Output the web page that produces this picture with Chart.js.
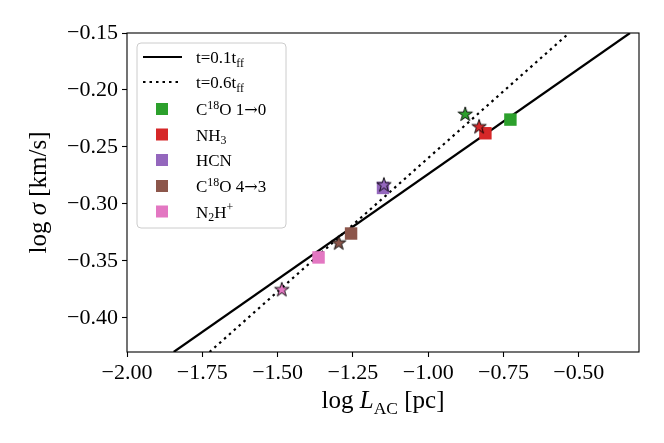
<!DOCTYPE html>
<html lang="en">
<head>
<meta charset="UTF-8">
<title>log sigma vs log L_AC</title>
<script src="https://cdn.jsdelivr.net/npm/chart.js"></script>
<style>
  html, body { margin: 0; padding: 0; background: #fff; }
  #wrap { width: 664px; height: 443px; }
</style>
</head>
<body>
<div id="wrap"><canvas id="chart" width="664" height="443"></canvas></div>
<script>
// model lines: t = 0.1 t_ff (solid) and t = 0.6 t_ff (dotted)
const solidX = [-1.845, -0.330];
const solidY = [-0.43, -0.15];
const dottedX = [-1.726, -0.532];
const dottedY = [-0.43, -0.15];

// tracers (squares = one estimate, stars = the other)
const tracerColors = ['#2ca02c', '#d62728', '#9467bd', '#8c564b', '#e377c2'];
const squareX = [-0.727, -0.810, -1.150, -1.256, -1.364];
const squareY = [-0.226, -0.238, -0.286, -0.326, -0.347];
const starX = [-0.877, -0.831, -1.147, -1.297, -1.486];
const starY = [-0.221, -0.232, -0.283, -0.334, -0.375];

const xTicks = [-2.0, -1.75, -1.5, -1.25, -1.0, -0.75, -0.5];
const yTicks = [-0.40, -0.35, -0.30, -0.25, -0.20, -0.15];

// legend text, split into pieces for sub/superscripts
const lineLabels = [
    [['t=0.1t'], ['ff', 'sub']],
    [['t=0.6t'], ['ff', 'sub']]
];
const tracerLabels = [
    [['C'], ['18', 'sup'], ['O 1'], ['→', 'ar'], ['0']],
    [['NH'], ['3', 'sub']],
    [['HCN']],
    [['C'], ['18', 'sup'], ['O 4'], ['→', 'ar'], ['3']],
    [['N'], ['2', 'sub'], ['H'], ['+', 'sup']]
];
const xTitle = [['log '], ['L', 'it'], ['AC', 'sub'], [' [pc]']];
const yTitle = [['log '], ['σ', 'it'], [' [km/s]']];

const FONT = '"Liberation Serif", serif';

function segFont(s, size) {
    if (s[1] === 'sub' || s[1] === 'sup') return (size * 0.7) + 'px ' + FONT;
    if (s[1] === 'it') return 'italic ' + size + 'px ' + FONT;
    if (s[1] === 'ar') return (size * 0.95) + 'px "DejaVu Serif", serif';
    return size + 'px ' + FONT;
}
function richWidth(ctx, segs, size) {
    let w = 0;
    segs.forEach(s => { ctx.font = segFont(s, size); w += ctx.measureText(s[0]).width; });
    return w;
}
// x = left edge, y = baseline
function drawRich(ctx, segs, x, y, size) {
    ctx.textBaseline = 'alphabetic';
    ctx.textAlign = 'left';
    ctx.fillStyle = '#000';
    segs.forEach(s => {
        ctx.font = segFont(s, size);
        let dy = 0;
        if (s[1] === 'sub') dy = size * 0.22;
        if (s[1] === 'sup') dy = -size * 0.38;
        ctx.fillText(s[0], x, y + dy);
        x += ctx.measureText(s[0]).width;
    });
}

// filled five point star with black edge, used as point image
function makeStar(color) {
    const c = document.createElement('canvas');
    c.width = 18; c.height = 18;
    const g = c.getContext('2d');
    const R = 7.6, r = R * 0.382;
    g.beginPath();
    for (let i = 0; i < 10; i++) {
        const a = -Math.PI / 2 + i * Math.PI / 5;
        const rad = i % 2 ? r : R;
        g.lineTo(9 + rad * Math.cos(a), 9.5 + rad * Math.sin(a));
    }
    g.closePath();
    g.fillStyle = color;
    g.fill();
    g.strokeStyle = '#000';
    g.lineWidth = 0.9;
    g.stroke();
    return c;
}

const fmt = v => v.toFixed(2).replace('-', '\u2212');

const toPts = (xs, ys) => xs.map((x, i) => ({ x: x, y: ys[i] }));

// frame, legend box and axis titles
const decor = {
    id: 'decor',
    afterDatasetsDraw(chart) {
        const ctx = chart.ctx, a = chart.chartArea;
        ctx.save();
        ctx.strokeStyle = '#000';
        ctx.lineWidth = 1.1;
        ctx.strokeRect(a.left, a.top, a.right - a.left, a.bottom - a.top);
        ctx.restore();
    },
    afterDraw(chart) {
        const ctx = chart.ctx, a = chart.chartArea;
        ctx.save();

        // legend
        ctx.beginPath();
        ctx.roundRect(137, 43, 149, 185, 4);
        ctx.fillStyle = 'rgba(255,255,255,0.8)';
        ctx.fill();
        ctx.strokeStyle = '#cccccc';
        ctx.lineWidth = 1;
        ctx.stroke();

        const rows = [57, 82, 109, 134.5, 160, 186, 211.5];
        const textX = 196, fs = 17;
        ctx.strokeStyle = '#000';
        ctx.lineWidth = 2.2;
        ctx.beginPath();
        ctx.moveTo(143, rows[0]); ctx.lineTo(182, rows[0]);
        ctx.stroke();
        ctx.setLineDash([2.5, 4]);
        ctx.beginPath();
        ctx.moveTo(143, rows[1]); ctx.lineTo(182, rows[1]);
        ctx.stroke();
        ctx.setLineDash([]);
        lineLabels.forEach((l, i) => drawRich(ctx, l, textX, rows[i] + 6, fs));
        tracerLabels.forEach((l, i) => {
            const y = rows[i + 2];
            ctx.fillStyle = tracerColors[i];
            ctx.fillRect(156, y - 6, 12, 12);
            drawRich(ctx, l, textX, y + 6, fs);
        });

        // axis titles
        const ts = 25;
        const wx = richWidth(ctx, xTitle, ts);
        drawRich(ctx, xTitle, (a.left + a.right) / 2 - wx / 2, 408, ts);
        const wy = richWidth(ctx, yTitle, ts);
        ctx.translate(46, (a.top + a.bottom) / 2);
        ctx.rotate(-Math.PI / 2);
        drawRich(ctx, yTitle, -wy / 2, 0, ts);
        ctx.restore();
    }
};

const tickFont = { family: FONT, size: 22 };

new Chart(document.getElementById('chart'), {
    type: 'scatter',
    data: {
        datasets: [
            {
                type: 'line',
                data: toPts(solidX, solidY),
                borderColor: '#000',
                borderWidth: 2.2,
                pointRadius: 0,
                order: 3
            },
            {
                type: 'line',
                data: toPts(dottedX, dottedY),
                borderColor: '#000',
                borderWidth: 2.2,
                borderDash: [2.5, 4],
                pointRadius: 0,
                order: 3
            },
            {
                data: toPts(squareX, squareY),
                pointStyle: 'rect',
                pointRadius: 8.8,
                backgroundColor: tracerColors,
                borderWidth: 0,
                order: 2
            },
            {
                data: toPts(starX, starY),
                pointStyle: tracerColors.map(makeStar),
                order: 1
            }
        ]
    },
    options: {
        responsive: false,
        animation: false,
        layout: { padding: { top: 33, right: 25, left: 0, bottom: 0 } },
        plugins: {
            legend: { display: false },
            tooltip: { enabled: false }
        },
        scales: {
            x: {
                type: 'linear',
                min: -2.0,
                max: -0.30,
                afterBuildTicks: s => { s.ticks = xTicks.map(v => ({ value: v })); },
                afterFit: s => { s.height = 91; },
                ticks: { font: tickFont, color: '#000', padding: 3, maxRotation: 0, callback: fmt },
                grid: { drawOnChartArea: false, color: '#000', tickLength: 5, tickWidth: 1.1 },
                border: { display: false }
            },
            y: {
                type: 'linear',
                min: -0.43,
                max: -0.15,
                afterBuildTicks: s => { s.ticks = yTicks.map(v => ({ value: v })); },
                afterFit: s => { s.width = 127; },
                ticks: { font: tickFont, color: '#000', padding: 4, callback: fmt },
                grid: { drawOnChartArea: false, color: '#000', tickLength: 5, tickWidth: 1.1 },
                border: { display: false }
            }
        }
    },
    plugins: [decor]
});
</script>
</body>
</html>
